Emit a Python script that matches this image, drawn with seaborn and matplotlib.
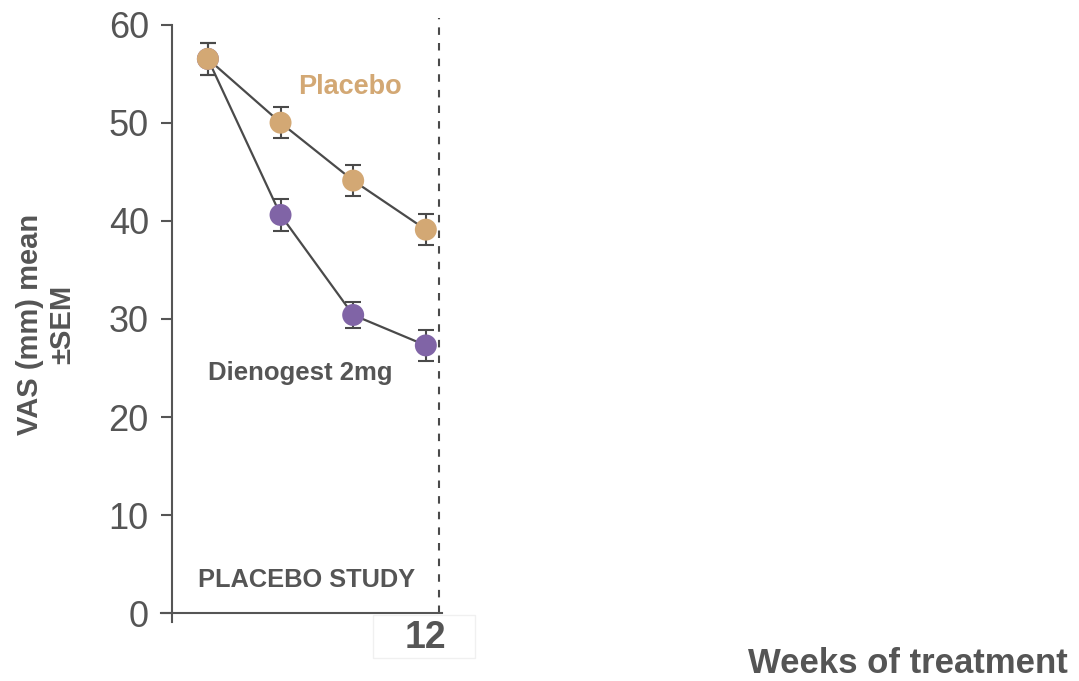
import matplotlib
matplotlib.use("Agg")
import pandas as pd
import matplotlib.pyplot as plt
import seaborn as sns
from matplotlib.patches import Rectangle

sns.set_style("white")
plt.rcParams["font.family"] = ["Liberation Sans", "DejaVu Sans"]

# ================================
# DATA
# ================================
weeks = [0, 4, 8, 12]
dng_vas = [56.5, 40.6, 30.4, 27.3]
dng_sem = [1.6, 1.6, 1.3, 1.6]
placebo_vas = [56.5, 50.0, 44.1, 39.1]
placebo_sem = [1.6, 1.6, 1.6, 1.6]
y_ticks = [0, 10, 20, 30, 40, 50, 60]
x_ticks = [12]
x_tick_labels = ["12"]

groups = ["Dienogest 2mg", "Placebo"]
colors = {"Dienogest 2mg": "#8064A6", "Placebo": "#D3A874"}
gray = "#555555"

# dienogest rows first so the shared baseline point shows the placebo colour
df = pd.concat([
    pd.DataFrame({"week": weeks, "vas": dng_vas, "sem": dng_sem, "group": groups[0]}),
    pd.DataFrame({"week": weeks, "vas": placebo_vas, "sem": placebo_sem, "group": groups[1]}),
], ignore_index=True)

# ================================
# PLOT
# ================================
fig = plt.figure(figsize=(10.79, 6.81), dpi=100)
ax = fig.add_axes([0.1489, 0.0871, 0.2604, 0.8865])

sns.lineplot(data=df, x="week", y="vas", units="group", estimator=None,
             color="#4a4a4a", lw=1.6, ax=ax, zorder=2, legend=False)
ax.errorbar(df["week"], df["vas"], yerr=df["sem"], fmt="none",
            ecolor="#4a4a4a", elinewidth=1.5, capsize=5.8, capthick=1.5, zorder=3)
sns.scatterplot(data=df, x="week", y="vas", hue="group", palette=colors,
                s=250, linewidth=0, legend=False, ax=ax, zorder=4)

ymin, ymax = -0.856, 60.67
ax.set_xlim(-2.6, 12.87)
ax.set_ylim(ymin, ymax)

# end-of-study dashed line
ax.vlines(12.7, 0, ymax, colors="#4a4a4a", lw=1.5, linestyles=(0, (3.6, 3.9)), zorder=1)

for s in ["top", "right"]:
    ax.spines[s].set_visible(False)
ax.spines["left"].set_position(("data", -2))
ax.spines["bottom"].set_position(("data", 0))
ax.spines["left"].set_bounds(ymin, 60)
for s in ["left", "bottom"]:
    ax.spines[s].set_color(gray)
    ax.spines[s].set_linewidth(1.5)

ax.set_yticks(y_ticks)
ax.tick_params(axis="y", length=7.9, width=1.5, color=gray, labelsize=26,
               labelcolor=gray, pad=8.5, left=True)
ax.set_xticks(x_ticks)
ax.set_xticklabels(x_tick_labels, fontsize=27, fontweight="bold", color=gray)
ax.tick_params(axis="x", length=0, pad=5, bottom=True)

ax.set_xlabel("")
ax.set_ylabel("VAS (mm) mean\n±SEM", fontsize=21, fontweight="bold", color=gray,
              va="center", ha="center", multialignment="center")
ax.yaxis.set_label_coords(-0.408, 0.493)

# annotations
ax.text(7.84, 52.93, "Placebo", fontsize=19.5, fontweight="bold",
        color=colors["Placebo"], ha="center", va="baseline")
ax.text(5.1, 23.78, "Dienogest 2mg", fontsize=18.5, fontweight="bold",
        color=gray, ha="center", va="baseline")
ax.text(5.44, 2.68, "PLACEBO STUDY", fontsize=18.3, fontweight="bold",
        color=gray, ha="center", va="baseline")

fig.text(0.841, 1.0 / 681, "Weeks of treatment", fontsize=25,
         fontweight="bold", color=gray, ha="center", va="bottom")

# faint box around the week label
fig.patches.append(Rectangle((373 / 1079, 1 - 658 / 681), 102 / 1079, 43 / 681,
                             transform=fig.transFigure, fill=False,
                             edgecolor="#f0f0f0", lw=1))

fig.savefig("out.png", dpi=100)
